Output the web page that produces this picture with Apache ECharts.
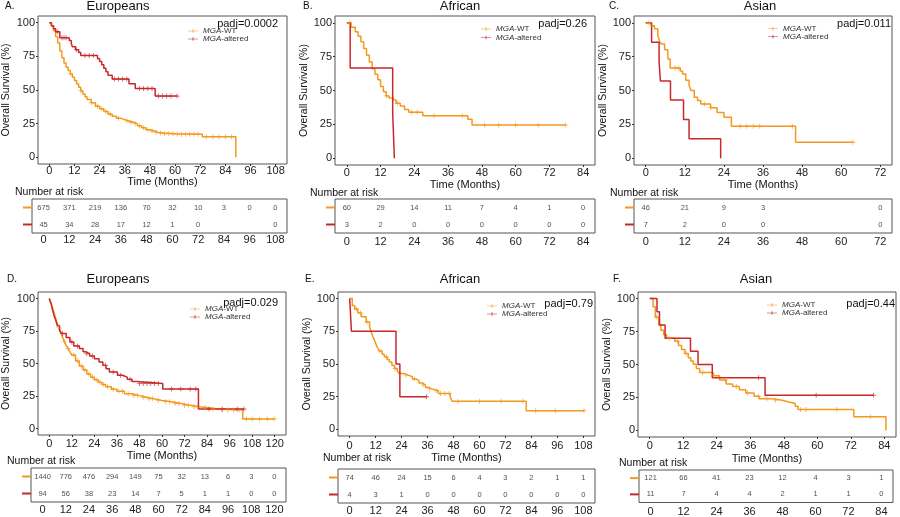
<!DOCTYPE html>
<html><head><meta charset="utf-8">
<script src="https://cdn.jsdelivr.net/npm/echarts@6/dist/echarts.min.js"></script>
<style>html,body{margin:0;padding:0;background:#fff}#c{width:900px;height:517px}</style>
</head><body><div id="c"></div>
<script>
// ---------------- DATA ----------------
// Panel A – Europeans
const A_wt_t = [0,1,2,3,4,5,6,7,8,9,10,11,12,13,14,15,16,17,18,20,22,24,26,28,30,32,34,36,38,40,42,44,46,48,50,52,55,60,73,89];
const A_wt_s = [100,97.5,94,89.5,85,79,74,70,67,64.5,62,59.5,57,54.5,52,49.5,47,45,43,40.5,38,36,34,32,30.5,29,28,27,26,25,23.5,22,20.5,19.5,18.5,18,17.5,17.2,15.3,0];
const A_wt_end = 89;
const A_wt_c = [10,15,20,23,25,27,29,33,37,39,41,43,45,47,49,51,53,55,57,59,61,63,65,67,69,71,75,78,81,84,87];
const A_alt_t = [0,1,2,3,5,9.5,10.5,11,12.5,14,15,23,24,25,26,27,28,30,38,41,50.5];
const A_alt_s = [100,97.8,95.6,93.3,88.9,86.7,84.4,82.2,80,77.8,75.6,73.3,71.1,68.7,66.2,63.6,60.9,58.1,54.7,51.2,45.5];
const A_alt_end = 61;
const A_alt_c = [4,6,7,8,13,17,19,21,31,33,35,37,43,45,47,49,52,54,56,58,61];
const A_risk_t = [0,12,24,36,48,60,72,84,96,108];
const A_risk_wt = [675,371,219,136,70,32,10,3,0,0];
const A_risk_alt = [45,34,28,17,12,1,0,null,null,0];

// Panel B – African
const B_wt_t = [0,1.5,3,4,5,6,7,8,9,10,11,12,13,14,15,16.5,17.5,19,20.5,22,27,43,44.5];
const B_wt_s = [100,96.7,93.3,90,86,81,76,71,66,62,58,53,49,46,44.5,43,40.5,38.5,36,34,31.3,28.7,24.5];
const B_wt_end = 77.8;
const B_wt_c = [1,14,18,23,25,31,41,49,54,60,68,77.8];
const B_alt_t = [0,1.2,16.3,16.9];
const B_alt_s = [100,66.7,33.3,0];
const B_alt_end = 16.9;
const B_alt_c = [];
const B_risk_t = [0,12,24,36,48,60,72,84];
const B_risk_wt = [60,29,14,11,7,4,1,0];
const B_risk_alt = [3,2,0,0,0,0,0,0];

// Panel C – Asian
const C_wt_t = [0,1.7,2.7,3.7,4.2,4.8,5.8,6.8,7.5,10.6,11.3,12.3,13.3,13.9,14.9,15.9,16.9,19.9,21.9,24,26.3,46];
const C_wt_s = [100,97.8,95.5,91.1,86.7,84.4,80,73.3,66.7,64.4,62.1,57.5,54,50,45,42.6,40,37.3,33.8,30.2,23.6,11.8];
const C_wt_end = 63.6;
const C_wt_c = [1,2,9,10,18,20,29,31,33,35,45,63.6];
const C_alt_t = [0,1.8,4.1,4.5,7.6,11.6,13.3,23];
const C_alt_s = [100,85.7,71.4,57.1,42.9,28.6,14.3,0];
const C_alt_end = 23;
const C_alt_c = [];
const C_risk_t = [0,12,24,36,48,60,72];
const C_risk_wt = [46,21,9,3,null,null,0];
const C_risk_alt = [7,2,0,0,null,null,0];

// Panel D – Europeans
const D_wt_t = [0,1,2,3,4,5,6,7,8,9,10,11,12,14,16,18,20,22,24,26,28,30,33,36,40,44,48,52,56,60,65,70,75,80,85,90,103];
const D_wt_s = [100,96,91.5,87,82,78,74,70.5,67,64,61.5,59,56.5,52,48,45,42,39.5,37.5,35.5,33.8,32.2,30.2,28.6,26.8,25.3,24,22.8,21.6,20.6,19.3,17.8,16.7,15.9,15,14.3,7.3];
const D_wt_end = 119.7;
const D_wt_c = [5,8,10,13,15,17,19,21,23,25,27,29,31,34,37,39,42,45,47,50,53,55,58,62,64,67,69,72,74,77,79,83,87,92,95,98,101,105,108,112,116,119.7];
const D_alt_t = [0,1,1.7,2.5,3.5,4.3,5.5,6.5,9,11,13,16,18,19.5,21.5,24,26.5,28.5,30.2,32,36.3,39,41.5,44,46.6,60.4,79.4];
const D_alt_s = [100,96,91.5,87,83,79,75.5,73,70,66.5,63.5,61.5,59,57.5,55.7,53.7,51.2,48.6,46,43.5,41,39.5,37.8,36.2,34.7,30.4,15];
const D_alt_end = 103.6;
const D_alt_c = [7,12,15,20,23,30,34,38,43,48,50,52,54,56,58,65,70,75,78,85,92,100,103.6];
const D_risk_t = [0,12,24,36,48,60,72,84,96,108,120];
const D_risk_wt = [1440,776,476,294,149,75,32,13,6,3,0];
const D_risk_alt = [94,56,38,23,14,7,5,1,1,0,0];

// Panel E – African
const E_wt_t = [0,1.2,2.3,3.8,5.3,7.6,9.2,10,10.7,11.5,12.2,13,13.7,15,16,17.3,18.3,19.5,20.6,22,22.9,25,27,29,30.5,32,33.5,35,36.5,38,41,46.5,47.3,81.6];
const E_wt_s = [100,94.6,92,89,86,82,78,74,71,68,65,62,60,57.5,55.5,53.5,51.6,49,46.6,44.5,42.8,41.5,40.3,38.6,37.5,35.5,34,32,31,29.5,27.5,25,21.5,14.3];
const E_wt_end = 108.3;
const E_wt_c = [3,5,8,14,17,21,26,30,34,37,40,42,44,46,50,60,70,80,86,95,108.3];
const E_alt_t = [0,0.8,21.4,23.2];
const E_alt_s = [100,75,50,25];
const E_alt_end = 35.5;
const E_alt_c = [35.5];
const E_risk_t = [0,12,24,36,48,60,72,84,96,108];
const E_risk_wt = [74,46,24,15,6,4,3,2,1,1];
const E_risk_alt = [4,3,1,0,0,0,0,0,0,0];

// Panel F – Asian
const F_wt_t = [0,1.2,2,3.2,4,5,6.1,9,10.3,11.4,12.6,13.8,14.7,15.6,16.7,17.9,22.7,25,27.4,29.7,32.1,34.4,37.4,39.2,43.9,47.4,49.8,52.1,53.1,73.1,84.6];
const F_wt_s = [100,93.8,86,80,76,72.6,70,67.7,64.5,61.4,58.3,55.2,52.7,50.2,47,44,41.5,38.3,35.3,33.3,30.8,28.4,25.9,24.1,22.9,21.6,20.4,18.4,15.9,10.4,0];
const F_wt_end = 84.6;
const F_wt_c = [2.5,7,10,13,19,23,27,31,35,39,42,45,54,56,67,79];
const F_alt_t = [0,2.6,3.5,5.5,14.6,17.3,22.4,41.3];
const F_alt_s = [100,90,80,70,60,50,40,26.7];
const F_alt_end = 80.2;
const F_alt_c = [39,59.6,80.2];
const F_risk_t = [0,12,24,36,48,60,72,84];
const F_risk_wt = [121,66,41,23,12,4,3,1];
const F_risk_alt = [11,7,4,4,2,1,1,0];

const yTicks = [0,25,50,75,100];

// ---------------- LAYOUT ----------------
const FONT = '"Liberation Sans", Arial, sans-serif';
const ORANGE = '#F39A1E';
const RED = '#C9282B';
const CROSS = 'path://M4.2,0h1.6v10h-1.6z M0,4.2h10v1.6h-10z';
const LEG_ICON = 'path://M0,4.3h20v1.4h-20z M9.2,1.5h1.6v7h-1.6z';

const panels = [
 {letter:'A.', title:'Europeans', padj:'padj=0.0002', R:108, step:12,
  wt:[A_wt_t,A_wt_s,A_wt_end,A_wt_c], alt:[A_alt_t,A_alt_s,A_alt_end,A_alt_c], risk:[A_risk_t,A_risk_wt,A_risk_alt],
  L:{plot:[32,16,255,148], risk:[32,199,255,34], letterXY:[5,6], titleXY:[118,6], padjXY:[278,24], leg:[188,31,8], nar:[15,192], yGap:26, xGap:10, xm:1, rm:1}},
 {letter:'B.', title:'African', padj:'padj=0.26', R:84, step:12,
  wt:[B_wt_t,B_wt_s,B_wt_end,B_wt_c], alt:[B_alt_t,B_alt_s,B_alt_end,B_alt_c], risk:[B_risk_t,B_risk_wt,B_risk_alt],
  L:{plot:[335,16,260,149], risk:[335,199,260,34], letterXY:[303,6], titleXY:[460,6], padjXY:[587,24], leg:[481,29,8.5], nar:[310,193], yGap:23, xGap:11, xm:2.5, rm:3}},
 {letter:'C.', title:'Asian', padj:'padj=0.011', R:72, step:12,
  wt:[C_wt_t,C_wt_s,C_wt_end,C_wt_c], alt:[C_alt_t,C_alt_s,C_alt_end,C_alt_c], risk:[C_risk_t,C_risk_wt,C_risk_alt],
  L:{plot:[634,16,258,149], risk:[634,199,258,34], letterXY:[609,6], titleXY:[760,6], padjXY:[891,24], leg:[768,28,6.5], nar:[610,193], yGap:22, xGap:12, xm:2.5, rm:3}},
 {letter:'D.', title:'Europeans', padj:'padj=0.029', R:120, step:12,
  wt:[D_wt_t,D_wt_s,D_wt_end,D_wt_c], alt:[D_alt_t,D_alt_s,D_alt_end,D_alt_c], risk:[D_risk_t,D_risk_wt,D_risk_alt],
  L:{plot:[31,292,255,143], risk:[31,468,255,34], letterXY:[7,279], titleXY:[118,279], padjXY:[278,303], leg:[190,309,8], nar:[7,461], yGap:26, xGap:12, xm:3.5, rm:2.5}},
 {letter:'E.', title:'African', padj:'padj=0.79', R:108, step:12,
  wt:[E_wt_t,E_wt_s,E_wt_end,E_wt_c], alt:[E_alt_t,E_alt_s,E_alt_end,E_alt_c], risk:[E_risk_t,E_risk_wt,E_risk_alt],
  L:{plot:[338,292,257,144], risk:[338,469,257,34], letterXY:[305,279], titleXY:[460,279], padjXY:[593,304], leg:[487,305,6], nar:[323,458], yGap:23, xGap:12, xm:4.5, rm:2.5}},
 {letter:'F.', title:'Asian', padj:'padj=0.44', R:84, step:12,
  wt:[F_wt_t,F_wt_s,F_wt_end,F_wt_c], alt:[F_alt_t,F_alt_s,F_alt_end,F_alt_c], risk:[F_risk_t,F_risk_wt,F_risk_alt],
  L:{plot:[638,292,258,145], risk:[639,470,254,33], letterXY:[613,279], titleXY:[756,279], padjXY:[895,304], leg:[767,304,6], nar:[619,463], yGap:23, xGap:16, xm:3.5, rm:3.5}}
];

function kmPoints(t, s, end) {
  const pts = t.map((v, i) => [v, s[i]]);
  if (end > t[t.length - 1]) pts.push([end, s[s.length - 1]]);
  return pts;
}
function stepAt(t, s, x) {
  let v = s[0];
  for (let i = 0; i < t.length; i++) { if (t[i] <= x) v = s[i]; }
  return v;
}

const grid = [], xAxis = [], yAxis = [], series = [], legend = [], graphic = [];
panels.forEach((p, i) => {
  const L = p.L;
  const ticks = [];
  for (let v = 0; v <= p.R; v += p.step) ticks.push(v);
  const xmin = -0.05 * p.R, xmax = 1.05 * p.R;
  const gp = i * 2, gr = i * 2 + 1;
  grid.push({left:L.plot[0], top:L.plot[1], width:L.plot[2], height:L.plot[3], show:true, borderColor:'#555', borderWidth:1, containLabel:false});
  grid.push({left:L.risk[0], top:L.risk[1], width:L.risk[2], height:L.risk[3], show:true, borderColor:'#555', borderWidth:1, containLabel:false});
  xAxis.push({gridIndex:gp, type:'value', min:xmin, max:xmax, position:'bottom',
    axisLine:{show:false, onZero:false}, splitLine:{show:false},
    axisTick:{show:true, length:2, customValues:ticks, lineStyle:{color:'#333'}},
    axisLabel:{customValues:ticks, fontSize:11, color:'#222', margin:L.xm, fontFamily:FONT},
    name:'Time (Months)', nameLocation:'middle', nameGap:L.xGap, nameTextStyle:{fontSize:11, color:'#111', fontFamily:FONT}});
  yAxis.push({gridIndex:gp, type:'value', min:-5, max:105, position:'left',
    axisLine:{show:false, onZero:false}, splitLine:{show:false},
    axisTick:{show:true, length:2, customValues:yTicks, lineStyle:{color:'#333'}},
    axisLabel:{customValues:yTicks, fontSize:11, color:'#222', margin:3, fontFamily:FONT},
    name:'Overall Survival (%)', nameLocation:'middle', nameRotate:90, nameGap:L.yGap,
    nameTextStyle:{fontSize:10.5, color:'#111', fontFamily:FONT}});
  xAxis.push({gridIndex:gr, type:'value', min:xmin, max:xmax, position:'bottom',
    axisLine:{show:false, onZero:false}, splitLine:{show:false}, axisTick:{show:false},
    axisLabel:{customValues:ticks, fontSize:11, color:'#222', margin:L.rm, fontFamily:FONT}});
  yAxis.push({gridIndex:gr, type:'category', data:['alt','wt'], position:'left',
    axisLine:{show:false, onZero:false}, axisTick:{show:false}, splitLine:{show:false},
    axisLabel:{margin:0, formatter: v => v === 'wt' ? '{o|\u2002}' : '{r|\u2002}',
      rich:{o:{backgroundColor:ORANGE, width:9, height:2, fontSize:2, lineHeight:2},
            r:{backgroundColor:RED, width:9, height:2, fontSize:2, lineHeight:2}}}});

  [['MGA-WT', p.wt, ORANGE], ['MGA-altered', p.alt, RED]].forEach(([name, d, col]) => {
    series.push({type:'line', name, xAxisIndex:gp, yAxisIndex:gp, data:kmPoints(d[0], d[1], d[2]),
      step:'end', symbol:'none', showSymbol:false, lineStyle:{color:col, width:1.5}, itemStyle:{color:col},
      silent:true, animation:false, z:3});
    series.push({type:'scatter', name:name + ' censor', xAxisIndex:gp, yAxisIndex:gp,
      data:d[3].map(c => [c, stepAt(d[0], d[1], c)]), symbol:CROSS, symbolSize:5,
      itemStyle:{color:col}, silent:true, animation:false, z:4});
  });
  const rk = p.risk;
  const rdata = [];
  rk[0].forEach((t, k) => {
    if (rk[1][k] !== null) rdata.push([t, 'wt', rk[1][k]]);
    if (rk[2][k] !== null) rdata.push([t, 'alt', rk[2][k]]);
  });
  series.push({type:'scatter', name:'risk', xAxisIndex:gr, yAxisIndex:gr, data:rdata, symbolSize:1,
    itemStyle:{color:'rgba(0,0,0,0)'}, silent:true, animation:false,
    label:{show:true, position:'inside', formatter: q => String(q.value[2]), fontSize:7.5, color:'#222', fontFamily:FONT}});

  legend.push({left:L.leg[0], top:L.leg[1] - L.leg[2] / 2, orient:'vertical', itemGap:0, padding:0,
    itemWidth:10, itemHeight:5, icon:LEG_ICON, data:['MGA-WT','MGA-altered'], selectedMode:false,
    formatter: n => n.replace('MGA', '{i|MGA}'),
    textStyle:{fontSize:8, lineHeight:L.leg[2], color:'#333', fontFamily:FONT,
      rich:{i:{fontStyle:'italic', fontSize:8, color:'#333', fontFamily:FONT}}}});

  const txt = (x, y, text, size, align) => graphic.push({type:'text', x, y, silent:true,
    style:{text, fill:'#111', fontSize:size, fontFamily:FONT, align, verticalAlign:'middle'}});
  txt(L.letterXY[0], L.letterXY[1], p.letter, 10, 'left');
  txt(L.titleXY[0], L.titleXY[1], p.title, 13, 'center');
  txt(L.padjXY[0], L.padjXY[1], p.padj, 11, 'right');
  txt(L.nar[0], L.nar[1], 'Number at risk', 10.5, 'left');
});

const chart = echarts.init(document.getElementById('c'), null, {renderer:'canvas'});
chart.setOption({animation:false, textStyle:{fontFamily:FONT}, grid, xAxis, yAxis, series, legend, graphic});
</script></body></html>
